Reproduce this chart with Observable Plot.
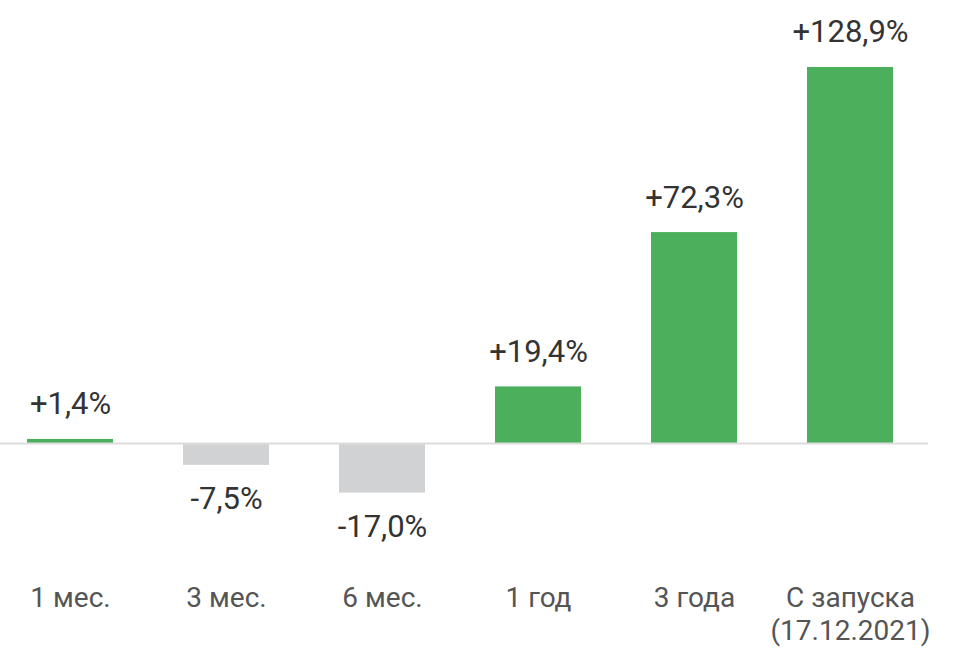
<!DOCTYPE html>
<html>
<head>
<meta charset="utf-8">
<script src="https://cdn.jsdelivr.net/npm/d3@7"></script>
<script src="https://cdn.jsdelivr.net/npm/@observablehq/plot@0.6"></script>
<style>
  html, body { margin: 0; padding: 0; background: #fff; }
  #chart svg { display: block; }
</style>
</head>
<body>
<div id="chart"></div>
<script>
const categories = ["1 мес.", "3 мес.", "6 мес.", "1 год", "3 года", "С запуска\n(17.12.2021)"];
const values = [1.4, -7.5, -17.0, 19.4, 72.3, 128.9];
const labels = ["+1,4%", "-7,5%", "-17,0%", "+19,4%", "+72,3%", "+128,9%"];

const data = categories.map((c, i) => ({ category: c, value: values[i], label: labels[i] }));

const green = "#4caf5b";
const grey = "#d1d2d4";

const chart = Plot.plot({
  width: 957,
  height: 665,
  marginLeft: 0,
  marginRight: 29,
  marginTop: 0,
  marginBottom: 115,
  style: { fontFamily: "Roboto, sans-serif", background: "#fff" },
  x: { domain: categories, range: [-8, 928], paddingInner: 0.45, paddingOuter: 0.225, label: null },
  y: { domain: [-30, 140], range: [530.5, 34.6], axis: null },
  marks: [
    Plot.barY(data, { x: "category", y: "value", fill: d => d.value >= 0 ? green : grey }),
    Plot.ruleY([0], { stroke: "#dcdcdc", strokeWidth: 2 }),
    Plot.text(data.filter(d => d.value >= 0), { x: "category", y: "value", text: "label", dy: -35, fontSize: 31, fill: "#333" }),
    Plot.text(data.filter(d => d.value < 0), { x: "category", y: "value", text: "label", dy: 34, fontSize: 31, fill: "#333" }),
    Plot.axisX({ tickSize: 0, tickPadding: 33, fontSize: 28, color: "#555", lineHeight: 1.18, lineAnchor: "top" })
  ]
});
document.getElementById("chart").appendChild(chart);
</script>
</body>
</html>
